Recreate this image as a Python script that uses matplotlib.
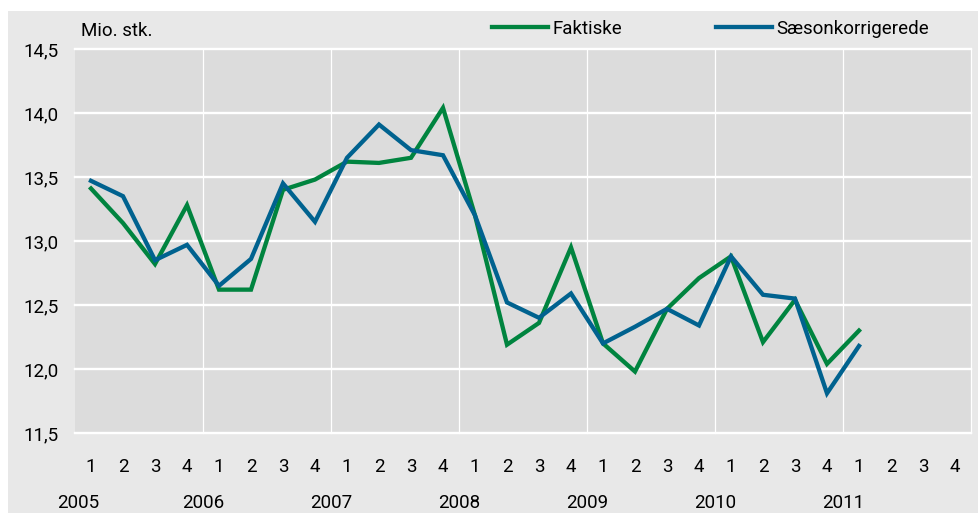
import matplotlib.pyplot as plt
import numpy as np
from matplotlib.patches import Rectangle

plt.rcParams['font.family'] = ['Roboto', 'DejaVu Sans']

# kvartaler 2005K1 - 2011K4
years = ['2005', '2006', '2007', '2008', '2009', '2010', '2011']
quarter_labels = ['1', '2', '3', '4'] * 7

faktiske = [13.41, 13.14, 12.82, 13.28,
            12.62, 12.62, 13.40, 13.48,
            13.62, 13.61, 13.65, 14.04,
            13.20, 12.19, 12.36, 12.95,
            12.20, 11.98, 12.47, 12.71,
            12.88, 12.21, 12.54, 12.04,
            12.30]
saeson = [13.47, 13.35, 12.85, 12.97,
          12.65, 12.86, 13.45, 13.15,
          13.65, 13.91, 13.71, 13.67,
          13.20, 12.52, 12.40, 12.59,
          12.20, 12.33, 12.47, 12.34,
          12.88, 12.58, 12.55, 11.81,
          12.18]

green = '#00843f'
blue = '#00628f'
fs = 13.5

fig = plt.figure(figsize=(9.79, 5.13), dpi=100, facecolor='white')
fig.patches.append(Rectangle((8/979, 0), 1, 1 - 11/513, transform=fig.transFigure,
                             facecolor='#e8e8e8', edgecolor='none', zorder=-10))

ax = fig.add_axes([75/979, 1 - 433/513, 896/979, 384/513])
ax.set_facecolor('#dcdcdc')

x = np.arange(len(faktiske))
ax.plot(x, faktiske, color=green, lw=3.1, label='Faktiske', solid_joinstyle='miter')
ax.plot(x, saeson, color=blue, lw=3.1, label='Sæsonkorrigerede', solid_joinstyle='miter')

ax.set_xlim(-0.5, 27.5)
ax.set_ylim(11.5, 14.5)

for v in np.arange(11.5, 14.6, 0.5):
    ax.axhline(v, color='white', lw=1.7, zorder=0.5, clip_on=False)
for b in np.arange(3.5, 28, 4):
    ax.axvline(b, color='white', lw=0.9, zorder=0.5, clip_on=False)

for s in ax.spines.values():
    s.set_visible(False)

yt = np.arange(11.5, 14.6, 0.5)
ax.set_yticks(yt)
ax.set_yticklabels([f'{v:.1f}'.replace('.', ',') for v in yt], fontsize=fs)
ax.set_xticks(np.arange(28))
ax.set_xticklabels(quarter_labels, fontsize=fs)
ax.tick_params(axis='y', length=0, pad=12)
ax.tick_params(axis='x', length=0, pad=18)

for i, yr in enumerate(years):
    xp = -0.4 if i == 0 else i * 4 - 0.5
    ax.text(xp, -0.182, yr, transform=ax.get_xaxis_transform(), ha='center', va='center',
            fontsize=fs)

fig.text(81/979, 1 - 31/513, 'Mio. stk.', fontsize=fs, va='center')

fig.legend(loc='center left', bbox_to_anchor=(492/979, 1 - 29/513), ncol=2, frameon=False,
           fontsize=fs, handlelength=3.0, handletextpad=0.25, columnspacing=4.95,
           borderpad=0, borderaxespad=0)

plt.savefig('out.png', dpi=100, facecolor=fig.get_facecolor())
